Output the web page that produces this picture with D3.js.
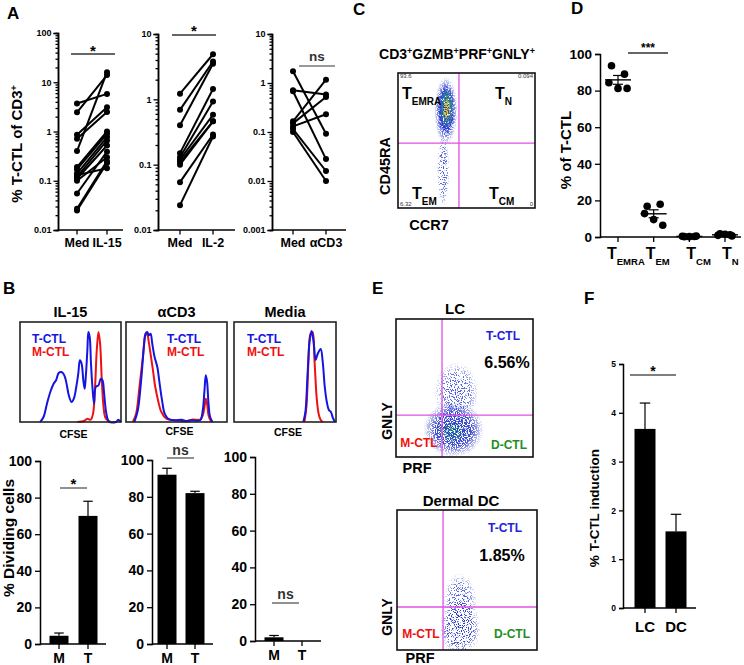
<!DOCTYPE html>
<html lang="en">
<head>
<meta charset="UTF-8">
<title>T-CTL figure</title>
<script src="https://cdn.jsdelivr.net/npm/d3@7/dist/d3.min.js"></script>
<style>
  body { margin: 0; background: #fff; }
  text { font-family: Arial, "Liberation Sans", sans-serif; font-weight: bold; }
</style>
</head>
<body>
<script>
// ---------- data ----------
// A: paired % T-CTL of CD3+ (Med vs stimulus)
const a1Med  = [3.7, 2.45, 0.86, 0.71, 0.40, 0.19, 0.17, 0.14, 0.12, 0.11, 0.10, 0.055, 0.027, 0.025, 0.13];
const a1Il15 = [5.8, 14, 3.1, 2.5, 16, 1.0, 0.9, 0.77, 0.66, 0.52, 0.30, 0.39, 0.25, 0.23, 0.18];
const a2Med  = [1.22, 0.69, 0.40, 0.15, 0.13, 0.12, 0.11, 0.10, 0.054, 0.024];
const a2Il2  = [4.9, 3.8, 3.5, 1.44, 0.93, 0.58, 0.46, 0.46, 0.29, 0.27];
const a3Med  = [1.73, 0.71, 0.68, 0.165, 0.15, 0.13, 0.115, 0.10];
const a3Cd3  = [0.092, 0.58, 0.028, 1.17, 0.52, 0.23, 0.016, 0.010];

// C: quadrant percentages
const cQuad = ["93.6", "0.094", "6.32", "0"];

// D: % of T-CTL by memory subset
const dCats = ["EMRA", "EM", "CM", "N"];
const dVals = [
  [93.6, 89, 84.3, 81.2, 81.2],
  [16.8, 17.9, 12.8, 9.5, 6.4],
  [0.2, 0.3, 0.4, 0.2, 0.5],
  [1.8, 1.2, 0.9, 1.5, 0.6]
];

// B top: CFSE histograms, [fraction across, relative height]
const il15Blue = [[0.20,0],[0.233,0.05],[0.267,0.183],[0.30,0.30],[0.333,0.383],[0.357,0.417],[0.383,0.49],[0.41,0.50],[0.433,0.477],[0.45,0.433],[0.467,0.35],[0.483,0.267],[0.51,0.20],[0.533,0.233],[0.557,0.35],[0.577,0.483],[0.593,0.617],[0.61,0.583],[0.627,0.417],[0.64,0.333],[0.65,0.433],[0.667,0.717],[0.677,0.90],[0.69,0.85],[0.703,0.583],[0.717,0.35],[0.733,0.183],[0.75,0.35],[0.777,0.367],[0.80,0.433],[0.817,0.417],[0.833,0.283],[0.85,0.117],[0.867,0.033],[0.883,0],[0.95,0],[0.973,0.023],[1,0]];
const il15Red  = [[0.567,0],[0.633,0.01],[0.667,0.033],[0.70,0.023],[0.723,0.083],[0.743,0.35],[0.76,0.717],[0.777,0.90],[0.793,0.783],[0.81,0.417],[0.827,0.15],[0.843,0.05],[0.867,0.017],[0.90,0]];
const cd3Blue  = [[0.083,0],[0.117,0.117],[0.15,0.417],[0.177,0.75],[0.193,0.883],[0.21,0.90],[0.227,0.867],[0.243,0.883],[0.26,0.783],[0.283,0.65],[0.31,0.55],[0.333,0.383],[0.357,0.217],[0.383,0.083],[0.417,0.033],[0.483,0.017],[0.55,0.023],[0.60,0.01],[0.65,0.017],[0.733,0.017],[0.76,0.117],[0.777,0.317],[0.79,0.467],[0.803,0.40],[0.817,0.183],[0.833,0.05],[0.857,0]];
const cd3Red   = [[0.067,0],[0.10,0.083],[0.133,0.35],[0.167,0.65],[0.193,0.867],[0.21,0.883],[0.223,0.817],[0.243,0.683],[0.267,0.517],[0.29,0.35],[0.317,0.217],[0.35,0.10],[0.40,0.033],[0.483,0.017],[0.583,0.007],[0.65,0.023],[0.70,0.023],[0.733,0.023],[0.76,0.067],[0.777,0.15],[0.79,0.233],[0.803,0.183],[0.817,0.067],[0.837,0.017],[0.857,0]];
const medBlue  = [[0.68,0],[0.70,0.1],[0.72,0.45],[0.74,0.8],[0.76,0.91],[0.78,0.8],[0.80,0.62],[0.82,0.68],[0.85,0.73],[0.87,0.6],[0.89,0.35],[0.91,0.2],[0.93,0.12],[0.95,0.1],[0.97,0.04],[0.99,0]];
const medRed   = [[0.69,0],[0.71,0.15],[0.73,0.6],[0.75,0.88],[0.77,0.9],[0.79,0.6],[0.81,0.25],[0.83,0.08],[0.85,0.02],[0.87,0]];

// B bottom: % dividing cells (mean, top of error bar)
const bCats = ["M", "T"];
const bIl15 = [4.5, 70], bIl15Err = [6, 78];
const bCd3  = [92, 82],  bCd3Err  = [95.5, 83];
const bMed  = [2, 0],    bMedErr  = [3, 0];

// F: % T-CTL induction
const fCats = ["LC", "DC"];
const fVals = [3.67, 1.57], fErr = [4.2, 1.92];

// ---------- drawing ----------
const svg = d3.select("body").append("svg").attr("width", 744).attr("height", 665);
const defs = svg.append("defs");

function styleAxis(g, fs) {
  g.select(".domain").attr("stroke", "#000").attr("stroke-width", 1.5);
  g.selectAll(".tick line").attr("stroke", "#000").attr("stroke-width", 1.3);
  g.selectAll(".tick text").attr("fill", "#000").style("font-size", fs + "px")
    .style("font-family", "Arial, 'Liberation Sans', sans-serif").style("font-weight", "bold");
}

function label(x, y, s, fs, opts = {}) {
  const t = svg.append("text").attr("x", x).attr("y", y).style("font-size", fs + "px")
    .attr("text-anchor", opts.anchor || "middle").attr("fill", opts.fill || "#000");
  if (opts.rotate) t.attr("transform", `rotate(-90,${x},${y})`);
  if (opts.weight) t.style("font-weight", opts.weight);
  if (s) t.text(s);
  return t;
}

function sigLine(x0, x1, y, txt, fs, ty, col) {
  svg.append("line").attr("x1", x0).attr("x2", x1).attr("y1", y).attr("y2", y)
    .attr("stroke", col).attr("stroke-width", 1.3);
  label((x0 + x1) / 2, ty, txt, fs, { fill: txt === "ns" ? "#333" : "#000" });
}

// panel letters
[["A", 7, 19], ["B", 3, 294], ["C", 353, 15], ["D", 571, 14], ["E", 372, 294], ["F", 584, 304]]
  .forEach(([s, x, y]) => label(x, y, s, 17, { anchor: "start" }));

// ---- A: log paired plots ----
function pairPlot(c) {
  const y = d3.scaleLog().domain(c.domain).range([230, c.top]);
  const x = d3.scalePoint().domain(c.cats).range(c.catX);
  const majors = [];
  for (let v = c.domain[0]; v <= c.domain[1] * 1.001; v *= 10) majors.push(+v.toPrecision(1));
  const minors = [];
  majors.slice(0, -1).forEach(m => { for (let k = 2; k < 10; k++) minors.push(m * k); });
  svg.append("g").attr("transform", `translate(${c.ax0},0)`)
    .call(d3.axisLeft(y).tickValues(minors).tickSize(2.5).tickFormat(""))
    .call(g => styleAxis(g, 9));
  svg.append("g").attr("transform", `translate(${c.ax0},0)`)
    .call(d3.axisLeft(y).tickValues(majors).tickSize(4.5).tickFormat(d3.format("~g")))
    .call(g => styleAxis(g, 9))
    .call(g => g.selectAll(".tick text").attr("dx", "0.1em"));
  svg.append("line").attr("x1", c.ax0).attr("x2", c.ax1).attr("y1", 230).attr("y2", 230)
    .attr("stroke", "#000").attr("stroke-width", 1.5);
  c.cats.forEach(k => {
    svg.append("line").attr("x1", x(k)).attr("x2", x(k)).attr("y1", 230).attr("y2", 234.5)
      .attr("stroke", "#000").attr("stroke-width", 1.3);
    label(x(k), 247, k, 12.5);
  });
  c.a.forEach((v, i) => {
    svg.append("line").attr("x1", x(c.cats[0])).attr("y1", y(v))
      .attr("x2", x(c.cats[1])).attr("y2", y(c.b[i])).attr("stroke", "#000").attr("stroke-width", 2);
  });
  [[c.a, c.cats[0]], [c.b, c.cats[1]]].forEach(([arr, k]) => {
    svg.append("g").selectAll("circle").data(arr).join("circle")
      .attr("cx", x(k)).attr("cy", d => y(d)).attr("r", 3).attr("fill", "#000");
  });
  sigLine(...c.sig);
}
pairPlot({ domain: [0.01, 100], top: 33, ax0: 58, ax1: 123, cats: ["Med", "IL-15"], catX: [77, 107],
  a: a1Med, b: a1Il15, sig: [71, 115, 54, "*", 15, 56, "#333"] });
pairPlot({ domain: [0.01, 10], top: 34, ax0: 158, ax1: 235, cats: ["Med", "IL-2"], catX: [180, 213],
  a: a2Med, b: a2Il2, sig: [172, 216, 35, "*", 15, 36, "#333"] });
pairPlot({ domain: [0.001, 10], top: 34, ax0: 272, ax1: 346, cats: ["Med", "αCD3"], catX: [293, 326],
  a: a3Med, b: a3Cd3, sig: [299, 335, 66, "ns", 13.5, 61, "#777"] });
label(22, 144, "", 15, { rotate: true }).call(t => {
  t.append("tspan").text("% T-CTL of CD3");
  t.append("tspan").attr("baseline-shift", "super").style("font-size", "9px").text("+");
});

// ---- speckle filters for flow plots ----
function speckFilter(id, slope, cut, seed) {
  const f = defs.append("filter").attr("id", id).attr("filterUnits", "userSpaceOnUse")
    .attr("x", 0).attr("y", 0).attr("width", 744).attr("height", 665);
  f.append("feTurbulence").attr("type", "fractalNoise").attr("baseFrequency", 0.85)
    .attr("numOctaves", 2).attr("seed", seed).attr("result", "n");
  f.append("feColorMatrix").attr("in", "n").attr("type", "matrix")
    .attr("values", `0 0 0 0 0  0 0 0 0 0  0 0 0 0 0  ${slope} 0 0 0 ${cut}`).attr("result", "m");
  f.append("feComposite").attr("in", "SourceGraphic").attr("in2", "m").attr("operator", "in");
}
speckFilter("dense", 14, -6.2, 4);
speckFilter("sparse", 14, -7.6, 9);
speckFilter("solid", 10, -3.6, 2);

function blobGrad(id, color) {
  const g = defs.append("radialGradient").attr("id", id);
  g.append("stop").attr("offset", "0%").attr("stop-color", color).attr("stop-opacity", 1);
  g.append("stop").attr("offset", "60%").attr("stop-color", color).attr("stop-opacity", 0.85);
  g.append("stop").attr("offset", "100%").attr("stop-color", color).attr("stop-opacity", 0);
}
blobGrad("gBlue", "#2233cc");
blobGrad("gBlue2", "#4455dd");
blobGrad("gGreen", "#22aa66");
blobGrad("gYel", "#e8d030");
blobGrad("gRed", "#e05030");

function flowBox(c) {
  const x = d3.scaleLinear().domain([0, 1]).range([c.x0, c.x1]);
  const y = d3.scaleLinear().domain([0, 1]).range([c.y1, c.y0]);
  const clipId = "clip" + c.x0 + c.y0;
  defs.append("clipPath").attr("id", clipId).append("rect")
    .attr("x", c.x0).attr("y", c.y0).attr("width", c.x1 - c.x0).attr("height", c.y1 - c.y0);
  const g = svg.append("g").attr("clip-path", `url(#${clipId})`);
  c.blobs.forEach(b => {
    g.append("ellipse").attr("cx", x(b[0])).attr("cy", y(b[1]))
      .attr("rx", x(b[2]) - x(0)).attr("ry", y(0) - y(b[3]))
      .attr("fill", `url(#${b[4]})`).attr("filter", `url(#${b[5]})`);
  });
  svg.append("line").attr("x1", x(c.gate[0])).attr("x2", x(c.gate[0])).attr("y1", c.y0).attr("y2", c.y1)
    .attr("stroke", "#e050e0").attr("stroke-width", 1.3);
  svg.append("line").attr("x1", c.x0).attr("x2", c.x1).attr("y1", y(c.gate[1])).attr("y2", y(c.gate[1]))
    .attr("stroke", "#e050e0").attr("stroke-width", 1.3);
  svg.append("rect").attr("x", c.x0).attr("y", c.y0).attr("width", c.x1 - c.x0).attr("height", c.y1 - c.y0)
    .attr("fill", "none").attr("stroke", "#111").attr("stroke-width", 1.6);
}

function subLabel(x, y, main, sub, fs, sfs, anchor) {
  const t = label(x, y, "", fs, { anchor: anchor || "start" });
  t.append("tspan").text(main);
  t.append("tspan").attr("baseline-shift", "sub").style("font-size", sfs + "px").text(sub);
  return t;
}

// ---- C ----
flowBox({ x0: 398, x1: 535, y0: 73, y1: 208, gate: [0.445, 0.48],
  blobs: [[0.33, 0.28, 0.045, 0.28, "gBlue2", "sparse"],
          [0.35, 0.72, 0.085, 0.25, "gBlue", "dense"],
          [0.35, 0.73, 0.065, 0.2, "gBlue", "solid"],
          [0.355, 0.74, 0.05, 0.15, "gGreen", "dense"],
          [0.355, 0.73, 0.03, 0.09, "gYel", "dense"],
          [0.36, 0.72, 0.014, 0.04, "gRed", "sparse"]] });
label(457, 59, "", 14).call(t => {
  ["CD3", "GZMB", "PRF", "GNLY"].forEach(s => {
    t.append("tspan").text(s);
    t.append("tspan").attr("baseline-shift", "super").style("font-size", "9px").text("+");
  });
});
label(400, 78, cQuad[0], 6, { anchor: "start", weight: "normal", fill: "#333" });
label(533, 78, cQuad[1], 6, { anchor: "end", weight: "normal", fill: "#333" });
label(400, 206, cQuad[2], 6, { anchor: "start", weight: "normal", fill: "#333" });
label(533, 206, cQuad[3], 6, { anchor: "end", weight: "normal", fill: "#333" });
subLabel(402, 99, "T", "EMRA", 16, 10);
subLabel(495, 99, "T", "N", 16, 10);
subLabel(412, 199, "T", "EM", 16, 10);
subLabel(489, 199, "T", "CM", 16, 10);
label(390, 166, "CD45RA", 14.5, { rotate: true });
label(429, 230, "CCR7", 14.5);

// ---- D ----
{
  const y = d3.scaleLinear().domain([0, 100]).range([237, 54]);
  const x = d3.scalePoint().domain(dCats).range([618, 725]);
  svg.append("g").attr("transform", "translate(600,0)")
    .call(d3.axisLeft(y).tickValues([0, 20, 40, 60, 80, 100]).tickSize(5))
    .call(g => styleAxis(g, 13.5));
  svg.append("line").attr("x1", 600).attr("x2", 741).attr("y1", 237).attr("y2", 237)
    .attr("stroke", "#000").attr("stroke-width", 1.5);
  const spread = [-5, 5, -7, 0, 7];
  const labOff = [-11, -8, -3, -3];
  dCats.forEach((k, i) => {
    svg.append("line").attr("x1", x(k)).attr("x2", x(k)).attr("y1", 237).attr("y2", 242)
      .attr("stroke", "#000").attr("stroke-width", 1.3);
    subLabel(x(k) + labOff[i], 259, "T", k, 16, 9.5);
    const vals = dVals[i];
    svg.append("g").selectAll("circle").data(vals).join("circle")
      .attr("cx", (d, j) => x(k) + spread[j] * (i < 2 ? 1.3 : 1)).attr("cy", d => y(d))
      .attr("r", 3.8).attr("fill", "#000");
    const m = d3.mean(vals), se = d3.deviation(vals) / Math.sqrt(vals.length);
    svg.append("line").attr("x1", x(k) - 13).attr("x2", x(k) + 13).attr("y1", y(m)).attr("y2", y(m))
      .attr("stroke", "#000").attr("stroke-width", 1.4);
    svg.append("line").attr("x1", x(k)).attr("x2", x(k)).attr("y1", y(m - se)).attr("y2", y(m + se))
      .attr("stroke", "#000").attr("stroke-width", 1.2);
    [m - se, m + se].forEach(v => svg.append("line").attr("x1", x(k) - 5).attr("x2", x(k) + 5)
      .attr("y1", y(v)).attr("y2", y(v)).attr("stroke", "#000").attr("stroke-width", 1.2));
  });
  sigLine(628, 668, 53, "***", 12, 52, "#333");
  label(571, 150, "% of  T-CTL", 15, { rotate: true });
}

// ---- B top: histograms ----
const hists = [
  { title: "IL-15", x0: 20, x1: 121, lx: 32, blue: il15Blue, red: il15Red, cfseY: 438 },
  { title: "αCD3", x0: 126, x1: 227, lx: 167, blue: cd3Blue, red: cd3Red, cfseY: 435 },
  { title: "Media", x0: 234, x1: 336, lx: 247, blue: medBlue, red: medRed, cfseY: 436 }
];
hists.forEach(h => {
  const x = d3.scaleLinear().domain([0, 1]).range([h.x0, h.x1]);
  const y = d3.scaleLinear().domain([0, 1]).range([422, 322]);
  const line = d3.line().x(d => x(d[0])).y(d => y(d[1])).curve(d3.curveCatmullRom.alpha(0.5));
  svg.append("path").attr("d", line(h.red)).attr("fill", "none").attr("stroke", "#ee1111").attr("stroke-width", 2);
  svg.append("path").attr("d", line(h.blue)).attr("fill", "none").attr("stroke", "#1515e0").attr("stroke-width", 2);
  svg.append("rect").attr("x", h.x0).attr("y", 322).attr("width", h.x1 - h.x0).attr("height", 100)
    .attr("fill", "none").attr("stroke", "#222").attr("stroke-width", 1.6);
  label((h.x0 + h.x1) / 2, 317, h.title, 14.5);
  label(h.lx, 343, "T-CTL", 12, { anchor: "start", fill: "#1515e0" });
  label(h.lx, 356, "M-CTL", 12, { anchor: "start", fill: "#ee1111" });
  label((h.x0 + h.x1) / 2 + 3, h.cfseY, "CFSE", 10.5);
});

// ---- bar helper (B bottom, F) ----
function barPlot(c) {
  const y = d3.scaleLinear().domain(c.domain).range([c.yb, c.yt]);
  const x = d3.scalePoint().domain(c.cats).range(c.catX);
  svg.append("g").attr("transform", `translate(${c.ax0},0)`)
    .call(d3.axisLeft(y).tickValues(c.ticks).tickSize(c.tick).tickFormat(d3.format("d")))
    .call(g => styleAxis(g, c.fs));
  svg.append("line").attr("x1", c.ax0).attr("x2", c.ax1).attr("y1", c.yb).attr("y2", c.yb)
    .attr("stroke", "#000").attr("stroke-width", 1.5);
  c.cats.forEach((k, i) => {
    svg.append("line").attr("x1", x(k)).attr("x2", x(k)).attr("y1", c.yb).attr("y2", c.yb + 5)
      .attr("stroke", "#000").attr("stroke-width", 1.3);
    label(x(k), c.yb + c.labDy, k, c.lfs);
    if (c.err[i] > c.vals[i]) {
      svg.append("line").attr("x1", x(k)).attr("x2", x(k)).attr("y1", y(c.vals[i])).attr("y2", y(c.err[i]))
        .attr("stroke", "#000").attr("stroke-width", 1.2);
      svg.append("line").attr("x1", x(k) - c.bw / 4).attr("x2", x(k) + c.bw / 4)
        .attr("y1", y(c.err[i])).attr("y2", y(c.err[i])).attr("stroke", "#000").attr("stroke-width", 1.2);
    }
  });
  svg.append("g").selectAll("rect").data(c.vals).join("rect")
    .attr("x", (d, i) => x(c.cats[i]) - c.bw / 2).attr("width", c.bw)
    .attr("y", d => y(d)).attr("height", d => c.yb - y(d)).attr("fill", "#000");
  if (c.sig) sigLine(...c.sig);
}
const bTicks = [0, 20, 40, 60, 80, 100];
barPlot({ domain: [0, 100], yb: 644, yt: 461, ax0: 40, ax1: 106, cats: bCats, catX: [59, 88], bw: 19,
  vals: bIl15, err: bIl15Err, ticks: bTicks, tick: 5, fs: 14, lfs: 14, labDy: 19,
  sig: [60, 87, 488, "*", 15, 489, "#555"] });
barPlot({ domain: [0, 100], yb: 644, yt: 460, ax0: 152, ax1: 213, cats: bCats, catX: [167, 195], bw: 19,
  vals: bCd3, err: bCd3Err, ticks: bTicks, tick: 5, fs: 14, lfs: 14, labDy: 19,
  sig: [167, 194, 458, "ns", 14, 455, "#555"] });
barPlot({ domain: [0, 100], yb: 641, yt: 457, ax0: 255, ax1: 321, cats: bCats, catX: [274, 302], bw: 19,
  vals: bMed, err: bMedErr, ticks: bTicks, tick: 5, fs: 14, lfs: 14, labDy: 19,
  sig: [272, 299, 603, "ns", 14, 599, "#555"] });
label(14, 538, "% Dividing cells", 15.5, { rotate: true });

// ---- E ----
flowBox({ x0: 396, x1: 533, y0: 319, y1: 457, gate: [0.336, 0.304],
  blobs: [[0.44, 0.47, 0.16, 0.22, "gBlue2", "sparse"],
          [0.42, 0.2, 0.22, 0.2, "gBlue", "dense"],
          [0.40, 0.18, 0.1, 0.08, "gGreen", "sparse"]] });
label(455, 314, "LC", 15);
label(503, 340, "T-CTL", 12, { fill: "#2222dd" });
label(507, 368, "6.56%", 16);
label(419, 447, "M-CTL", 12, { fill: "#ee1111" });
label(509, 449, "D-CTL", 12, { fill: "#1f8f1f" });
label(392, 421, "GNLY", 14, { rotate: true });
label(417, 473, "PRF", 14.5);

flowBox({ x0: 397, x1: 537, y0: 510, y1: 650, gate: [0.329, 0.307],
  blobs: [[0.45, 0.35, 0.12, 0.2, "gBlue2", "sparse"],
          [0.45, 0.16, 0.15, 0.2, "gBlue", "sparse"]] });
label(461, 506, "Dermal DC", 15);
label(505, 532, "T-CTL", 12, { fill: "#2222dd" });
label(502, 561, "1.85%", 16);
label(421, 638, "M-CTL", 12, { fill: "#ee1111" });
label(512, 638, "D-CTL", 12, { fill: "#1f8f1f" });
label(392, 617, "GNLY", 14, { rotate: true });
label(420, 663, "PRF", 14.5);

// ---- F ----
barPlot({ domain: [0, 5], yb: 608, yt: 364, ax0: 623, ax1: 696, cats: fCats, catX: [645, 676], bw: 21,
  vals: fVals, err: fErr, ticks: [0, 1, 2, 3, 4, 5], tick: 4, fs: 8.5, lfs: 15, labDy: 24,
  sig: [630, 676, 375, "*", 14, 376, "#555"] });
label(599, 508, "% T-CTL induction", 13.5, { rotate: true });
</script>
</body>
</html>
